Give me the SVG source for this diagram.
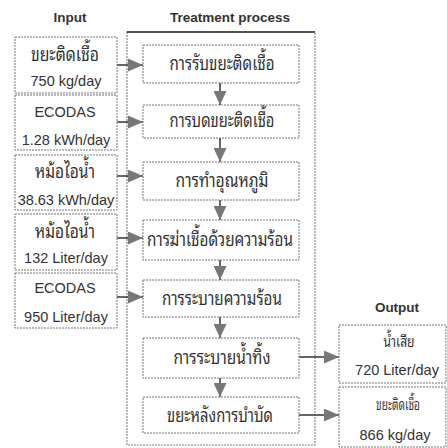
<svg xmlns="http://www.w3.org/2000/svg" width="447" height="448" viewBox="0 0 447 448">
<style>
.box{fill:#fff;stroke:#777;stroke-width:1;stroke-dasharray:2 1}
.frame{fill:none;stroke:#888;stroke-width:1.2;stroke-dasharray:2 1}
.t{fill:#333;text-anchor:middle}
.th{font-family:"Noto Sans Thai Looped","Noto Serif Thai","Loma","Garuda","Norasi","Noto Sans Thai","Noto Sans","DejaVu Sans",sans-serif;font-size:20px}
.ths{font-size:16px}
.en{font-family:"Liberation Sans",Arial,sans-serif;font-size:14.5px}
.hd{font-family:"Liberation Sans",Arial,sans-serif;font-size:13.5px;font-weight:bold}
.c{stroke:#333;stroke-width:1.5;fill:none}
</style>
<defs>
<marker id="ah" markerWidth="15" markerHeight="13" refX="15" refY="6.5" orient="auto" markerUnits="userSpaceOnUse"><path d="M0,0 L15,6.5 L0,13 Z" fill="#777"/></marker>
<marker id="ahd" markerWidth="14" markerHeight="13" refX="14" refY="6.5" orient="auto" markerUnits="userSpaceOnUse"><path d="M0,0 L14,6.5 L0,13 Z" fill="#777"/></marker>
</defs>
<text class="t hd" x="70" y="22">Input</text>
<text class="t hd" x="230" y="22">Treatment process</text>
<text class="t hd" x="397" y="312">Output</text>
<g id="frame">
<rect class="frame" x="127" y="32" width="188" height="413"/>
<line x1="127" y1="32" x2="315" y2="32" stroke="#222" stroke-width="1.5"/>
</g>
<g id="connectors">
<line class="c" x1="117" y1="65" x2="143" y2="65" marker-end="url(#ah)"/>
<line class="c" x1="117" y1="122" x2="143" y2="122" marker-end="url(#ah)"/>
<line class="c" x1="117" y1="176" x2="143" y2="176" marker-end="url(#ah)"/>
<line class="c" x1="117" y1="238" x2="143" y2="238" marker-end="url(#ah)"/>
<line class="c" x1="117" y1="297" x2="143" y2="297" marker-end="url(#ah)"/>
<line class="c" x1="220" y1="83" x2="220" y2="105" marker-end="url(#ahd)"/>
<line class="c" x1="220" y1="138" x2="220" y2="162" marker-end="url(#ahd)"/>
<line class="c" x1="220" y1="200" x2="220" y2="220" marker-end="url(#ahd)"/>
<line class="c" x1="220" y1="260" x2="220" y2="280" marker-end="url(#ahd)"/>
<line class="c" x1="220" y1="317" x2="220" y2="338" marker-end="url(#ahd)"/>
<line class="c" x1="220" y1="378" x2="220" y2="397" marker-end="url(#ahd)"/>
<line class="c" x1="298" y1="357" x2="339" y2="357" marker-end="url(#ah)"/>
<line class="c" x1="298" y1="415" x2="339" y2="415" marker-end="url(#ah)"/>
</g>
<g id="in1"><rect class="box" x="15" y="37" width="102" height="56"/><text class="t th" x="65" y="61" textLength="68" lengthAdjust="spacingAndGlyphs">ขยะติดเชื้อ</text><text class="t en" x="66" y="86">750 kg/day</text></g>
<g id="in2"><rect class="box" x="15" y="95" width="102" height="55"/><text class="t en" x="65" y="117">ECODAS</text><text class="t en" x="66" y="145">1.28 kWh/day</text></g>
<g id="in3"><rect class="box" x="15" y="155" width="102" height="55"/><text class="t th" x="65" y="178" textLength="60" lengthAdjust="spacingAndGlyphs">หม้อไอน้ำ</text><text class="t en" x="66" y="205">38.63 kWh/day</text></g>
<g id="in4"><rect class="box" x="15" y="214" width="102" height="56"/><text class="t th" x="65" y="238" textLength="60" lengthAdjust="spacingAndGlyphs">หม้อไอน้ำ</text><text class="t en" x="66" y="263">132 Liter/day</text></g>
<g id="in5"><rect class="box" x="15" y="273" width="102" height="55"/><text class="t en" x="65" y="293">ECODAS</text><text class="t en" x="66" y="322">950 Liter/day</text></g>
<g id="p1"><rect class="box" x="143" y="45" width="156" height="38"/><text class="t th" x="222" y="70" textLength="105" lengthAdjust="spacingAndGlyphs">การรับขยะติดเชื้อ</text></g>
<g id="p2"><rect class="box" x="143" y="105" width="156" height="33"/><text class="t th" x="222" y="127" textLength="105" lengthAdjust="spacingAndGlyphs">การบดขยะติดเชื้อ</text></g>
<g id="p3"><rect class="box" x="143" y="162" width="156" height="38"/><text class="t th" x="222" y="187" textLength="93" lengthAdjust="spacingAndGlyphs">การทำอุณหภูมิ</text></g>
<g id="p4"><rect class="box" x="143" y="220" width="156" height="40"/><text class="t th" x="220" y="246" textLength="146" lengthAdjust="spacingAndGlyphs">การฆ่าเชื้อด้วยความร้อน</text></g>
<g id="p5"><rect class="box" x="143" y="280" width="156" height="37"/><text class="t th" x="222" y="305" textLength="120" lengthAdjust="spacingAndGlyphs">การระบายความร้อน</text></g>
<g id="p6"><rect class="box" x="143" y="338" width="156" height="40"/><text class="t th" x="222" y="364" textLength="97" lengthAdjust="spacingAndGlyphs">การระบายน้ำทิ้ง</text></g>
<g id="p7"><rect class="box" x="143" y="397" width="156" height="36"/><text class="t th" x="220" y="422" textLength="106" lengthAdjust="spacingAndGlyphs">ขยะหลังการบำบัด</text></g>
<g id="out1"><rect class="box" x="339" y="325" width="107" height="58"/><text class="t th ths" x="399" y="347" textLength="31" lengthAdjust="spacingAndGlyphs">น้ำเสีย</text><text class="t en" x="397" y="375">720 Liter/day</text></g>
<g id="out2"><rect class="box" x="339" y="387" width="107" height="60"/><text class="t th ths" x="398" y="410" textLength="44" lengthAdjust="spacingAndGlyphs">ขยะติดเชื้อ</text><text class="t en" x="395" y="440">866 kg/day</text></g>
</svg>
